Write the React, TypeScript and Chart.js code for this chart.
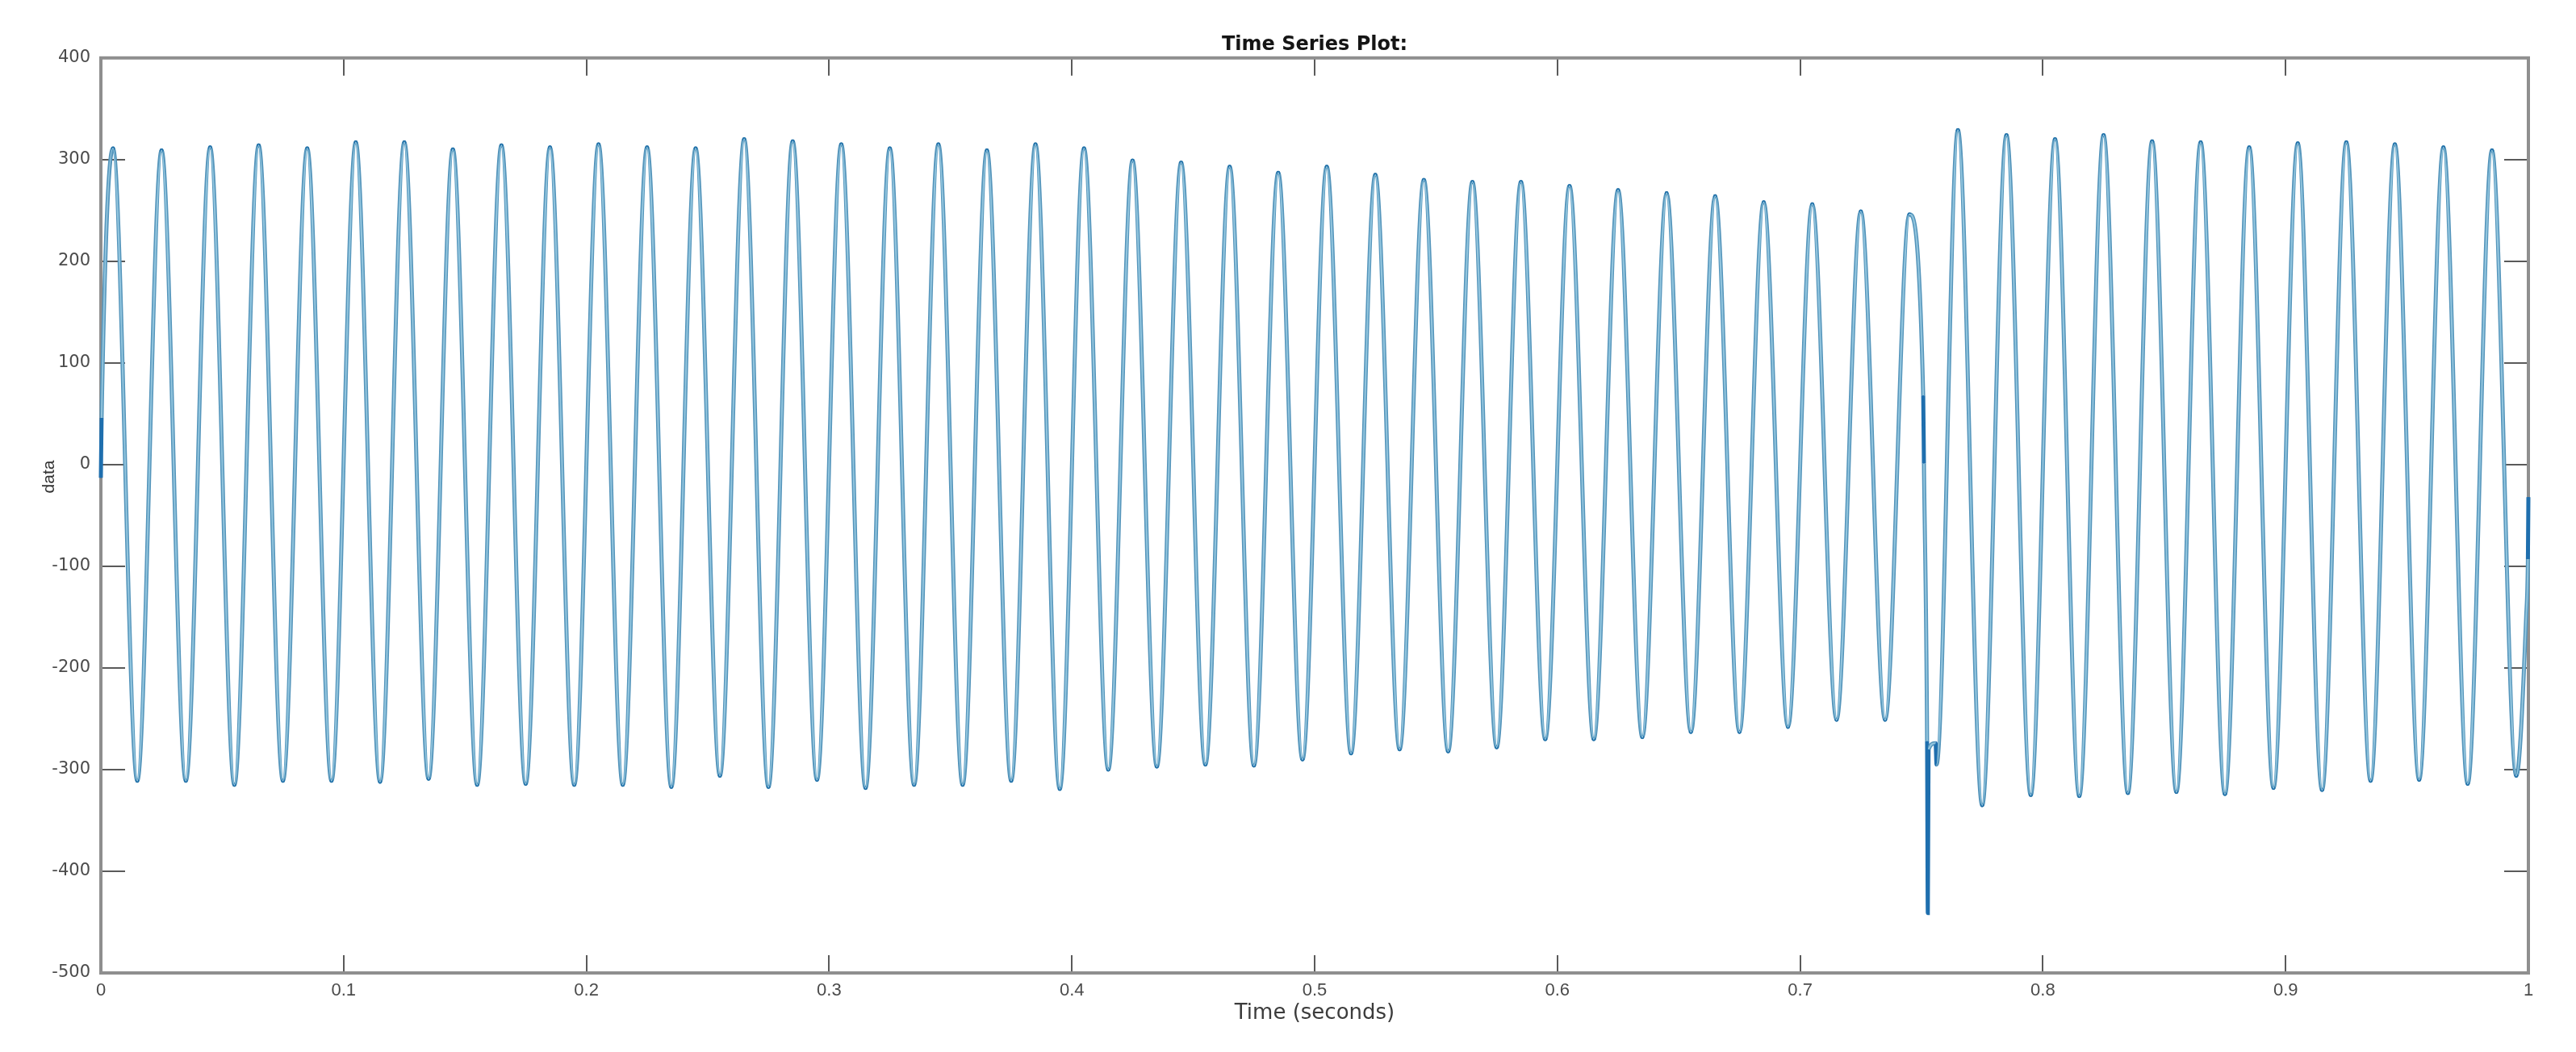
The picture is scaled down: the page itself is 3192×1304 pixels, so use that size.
import React, { useEffect, useRef } from 'react';
import { Chart, registerables } from 'chart.js';

Chart.register(...registerables);

// ---------- text ----------
const TITLE_TEXT = 'Time Series Plot:';
const X_LABEL = 'Time (seconds)';
const Y_LABEL = 'data';

// ---------- tick labels ----------
const X_TICKS = [0, 0.1, 0.2, 0.3, 0.4, 0.5, 0.6, 0.7, 0.8, 0.9, 1];
const Y_TICKS = [-500, -400, -300, -200, -100, 0, 100, 200, 300, 400];

// ---------- series ----------
// 50 Hz waveform: one positive peak and one negative trough per 0.02 s cycle
const CYCLE_PERIOD = 0.02;
const FIRST_PEAK_TIME = 0.005;

const PEAKS = [
  311, 309, 312, 314, 311, 317, 317, 310, 314, 312,
  315, 312, 311, 320, 318, 315, 311, 315, 309, 315,
  311, 299, 297, 293, 287, 293, 285, 280, 278, 278,
  274, 270, 267, 264, 258, 256, 249, 246, 329, 324,
  320, 324, 318, 317, 312, 316, 317, 315, 312, 309,
];

// null = the trough replaced by the disturbance near t = 0.75 s
const TROUGHS: (number | null)[] = [
  -311, -311, -315, -311, -311, -312, -309, -315, -314, -315,
  -315, -317, -306, -317, -310, -318, -315, -315, -311, -319,
  -300, -297, -295, -296, -290, -284, -280, -282, -278, -270,
  -270, -268, -263, -263, -258, -251, -251, null, -335, -325,
  -326, -323, -322, -324, -318, -320, -311, -310, -314, -306,
];

const START_TIMES = [0, 0.0003];
const START_VALUES = [-13, 46];

const DISTURBANCE_TIMES = [0.7507, 0.751, 0.7523, 0.7526, 0.7529, 0.7558, 0.7562];
const DISTURBANCE_VALUES = [68, 1, -272, -441, -280, -274, -295];

const END_TIMES = [0.9991, 0.9998, 1.0];
const END_VALUES = [-149, -93, -32];

function buildSeries() {
  const pts: { x: number; y: number }[] = [];
  const tips = new Set<number>();
  START_TIMES.forEach((t, i) => pts.push({ x: t, y: START_VALUES[i] }));
  PEAKS.forEach((p, k) => {
    const tp = FIRST_PEAK_TIME + k * CYCLE_PERIOD;
    tips.add(pts.length);
    pts.push({ x: tp, y: p });
    const tr = TROUGHS[k];
    if (tr === null) {
      DISTURBANCE_TIMES.forEach((t, i) => pts.push({ x: t, y: DISTURBANCE_VALUES[i] }));
    } else {
      tips.add(pts.length);
      pts.push({ x: tp + CYCLE_PERIOD / 2, y: tr });
    }
  });
  END_TIMES.forEach((t, i) => pts.push({ x: t, y: END_VALUES[i] }));
  return { pts, tips };
}

const X_TICK_LEN = 22;
const Y_TICK_LEN = 30;

const matlabAxes = {
  id: 'matlabAxes',
  beforeDatasetsDraw(chart: any) {
    const { ctx, chartArea, scales } = chart;
    const { left, right, top, bottom } = chartArea;
    const xs = scales.x;
    const ys = scales.y;
    ctx.save();
    ctx.strokeStyle = '#5a5a5a';
    ctx.lineWidth = 2;
    ctx.beginPath();
    X_TICKS.forEach((v) => {
      const px = Math.round(xs.getPixelForValue(v));
      ctx.moveTo(px, bottom);
      ctx.lineTo(px, bottom - X_TICK_LEN);
      ctx.moveTo(px, top);
      ctx.lineTo(px, top + X_TICK_LEN);
    });
    Y_TICKS.forEach((v) => {
      const py = Math.round(ys.getPixelForValue(v));
      ctx.moveTo(left, py);
      ctx.lineTo(left + Y_TICK_LEN, py);
      ctx.moveTo(right, py);
      ctx.lineTo(right - Y_TICK_LEN, py);
    });
    ctx.stroke();
    ctx.strokeStyle = '#8f8f8f';
    ctx.lineWidth = 4;
    ctx.strokeRect(left, top, right - left, bottom - top);
    ctx.restore();
  },
  afterDraw(chart: any) {
    // y-axis label, placed slightly above the axis centre as in the reference
    const { ctx, scales } = chart;
    const cy = scales.y.getPixelForValue(-12);
    ctx.save();
    ctx.translate(61, cy);
    ctx.rotate(-Math.PI / 2);
    ctx.font = "21px 'Liberation Sans', Arial, sans-serif";
    ctx.fillStyle = '#333333';
    ctx.textAlign = 'center';
    ctx.textBaseline = 'middle';
    ctx.fillText(Y_LABEL, 0, 0);
    ctx.restore();
  },
};

const darkSegment = (c: any) =>
  c.p1.parsed.x - c.p0.parsed.x < 0.0005 ? '#1f6fae' : undefined;

export default function App() {
  const ref = useRef<HTMLCanvasElement | null>(null);

  useEffect(() => {
    if (!ref.current) return;
    const { pts, tips } = buildSeries();
    const chart = new Chart(ref.current, {
      type: 'line',
      data: {
        datasets: [
          {
            // light inner stroke (drawn on top)
            data: pts,
            borderColor: '#92c5de',
            borderWidth: 2,
            cubicInterpolationMode: 'monotone',
            pointRadius: 0,
            pointHoverRadius: 0,
            clip: 4,
            segment: { borderColor: darkSegment },
          } as any,
          {
            // darker outer stroke
            data: pts,
            borderColor: '#5595bb',
            borderWidth: 5,
            cubicInterpolationMode: 'monotone',
            pointRadius: (c: any) => (tips.has(c.dataIndex) ? 2.4 : 0),
            pointBackgroundColor: '#1f6fa8',
            pointBorderWidth: 0,
            pointHoverRadius: 0,
            clip: 4,
            segment: { borderColor: darkSegment },
          } as any,
        ],
      },
      options: {
        animation: false,
        responsive: false,
        events: [],
        layout: { padding: { left: 0, right: 59, top: 0, bottom: 0 } },
        plugins: {
          legend: { display: false },
          tooltip: { enabled: false },
          title: {
            display: true,
            fullSize: false,
            text: TITLE_TEXT,
            color: '#151515',
            font: { family: 'DejaVu Sans', size: 24, weight: 'bold' },
            padding: { top: 41, bottom: 2 },
          },
        },
        scales: {
          x: {
            type: 'linear',
            min: 0,
            max: 1,
            afterBuildTicks: (s: any) => {
              s.ticks = X_TICKS.map((v) => ({ value: v }));
            },
            afterFit: (s: any) => {
              s.height = 98;
            },
            grid: { display: false, drawTicks: false },
            border: { display: false },
            ticks: {
              padding: 9,
              color: '#4b4b4b',
              autoSkip: false,
              maxRotation: 0,
              font: { family: "'Liberation Sans', Arial, sans-serif", size: 22 },
              callback: (v: any) => String(Number(Number(v).toFixed(1))),
            },
            title: {
              display: true,
              text: X_LABEL,
              color: '#3c3c3c',
              font: { family: 'DejaVu Sans', size: 26 },
              padding: { top: 0, bottom: 32 },
            },
          },
          y: {
            type: 'linear',
            min: -500,
            max: 400,
            afterBuildTicks: (s: any) => {
              s.ticks = Y_TICKS.map((v) => ({ value: v }));
            },
            afterFit: (s: any) => {
              s.width = 125;
            },
            grid: { display: false, drawTicks: false },
            border: { display: false },
            ticks: {
              padding: 13,
              color: '#4b4b4b',
              autoSkip: false,
              font: { family: 'DejaVu Sans', size: 21 },
              callback: (v: any) => String(v),
            },
            title: { display: false },
          },
        },
      },
      plugins: [matlabAxes],
    } as any);
    return () => chart.destroy();
  }, []);

  return (
    <div
      style={{
        position: 'fixed',
        left: 0,
        top: 0,
        width: 3192,
        height: 1304,
        background: '#ffffff',
      }}
    >
      <canvas ref={ref} width={3192} height={1304} style={{ display: 'block' }} />
    </div>
  );
}
